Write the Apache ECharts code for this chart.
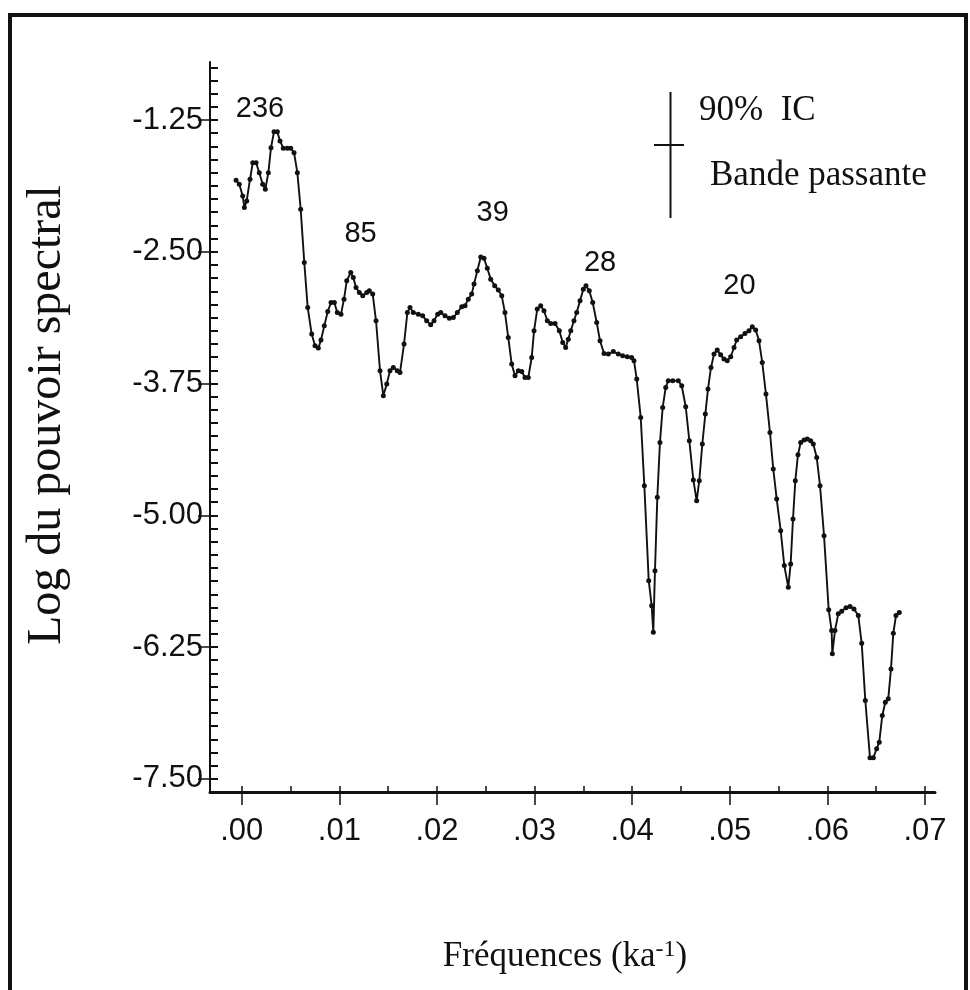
<!DOCTYPE html>
<html>
<head>
<meta charset="utf-8">
<script src="https://cdn.jsdelivr.net/npm/echarts@6/dist/echarts.min.js"></script>
<style>
html,body{margin:0;padding:0;background:#fff;}
#chart{width:970px;height:990px;}
</style>
</head>
<body>
<div id="chart"></div>
<script>
// Frequencies (ka^-1)
const freq = [
-0.00058,-0.00025,0.00010,0.00027,0.00051,0.00085,0.00113,0.00147,0.00180,0.00215,
0.00242,0.00273,0.00300,0.00331,0.00365,0.00392,0.00426,0.00467,0.00502,0.00536,
0.00570,0.00604,0.00641,0.00676,0.00717,0.00751,0.00785,0.00812,0.00846,0.00881,
0.00915,0.00949,0.00979,0.01017,0.01048,0.01076,0.01117,0.01143,0.01171,0.01205,
0.01240,0.01281,0.01307,0.01342,0.01376,0.01417,0.01451,0.01486,0.01519,0.01553,
0.01594,0.01622,0.01663,0.01697,0.01724,0.01758,0.01809,0.01854,0.01895,0.01936,
0.01970,0.02008,0.02039,0.02083,0.02127,0.02168,0.02209,0.02254,0.02288,0.02321,
0.02356,0.02380,0.02414,0.02449,0.02482,0.02516,0.02551,0.02592,0.02629,0.02664,
0.02697,0.02731,0.02766,0.02800,0.02834,0.02869,0.02902,0.02936,0.02971,0.02995,
0.03028,0.03063,0.03097,0.03131,0.03166,0.03210,0.03254,0.03289,0.03319,0.03346,
0.03371,0.03404,0.03432,0.03466,0.03500,0.03527,0.03561,0.03596,0.03637,0.03671,
0.03712,0.03756,0.03807,0.03858,0.03903,0.03950,0.03995,0.04019,0.04047,0.04088,
0.04125,0.04170,0.04200,0.04217,0.04234,0.04258,0.04285,0.04313,0.04344,0.04370,
0.04416,0.04473,0.04508,0.04549,0.04586,0.04627,0.04661,0.04688,0.04719,0.04750,
0.04777,0.04808,0.04839,0.04872,0.04907,0.04941,0.04975,0.05010,0.05044,0.05071,
0.05112,0.05156,0.05197,0.05231,0.05266,0.05300,0.05333,0.05371,0.05412,0.05446,
0.05481,0.05522,0.05559,0.05600,0.05624,0.05648,0.05672,0.05699,0.05727,0.05761,
0.05794,0.05829,0.05856,0.05891,0.05925,0.05966,0.06014,0.06044,0.06051,0.06078,
0.06112,0.06147,0.06191,0.06232,0.06273,0.06317,0.06352,0.06389,0.06437,0.06471,
0.06505,0.06532,0.06563,0.06594,0.06624,0.06652,0.06676,0.06703,0.06737
];
// Log of spectral power
const logPower = [
-1.822,-1.859,-1.970,-2.081,-2.018,-1.812,-1.655,-1.655,-1.750,-1.859,
-1.907,-1.750,-1.513,-1.361,-1.361,-1.449,-1.518,-1.518,-1.518,-1.560,
-1.750,-2.096,-2.603,-3.029,-3.281,-3.392,-3.414,-3.338,-3.203,-3.067,
-2.982,-2.982,-3.077,-3.092,-2.950,-2.776,-2.697,-2.745,-2.840,-2.887,
-2.918,-2.887,-2.871,-2.902,-3.155,-3.629,-3.866,-3.755,-3.629,-3.598,
-3.629,-3.645,-3.376,-3.077,-3.029,-3.077,-3.092,-3.108,-3.155,-3.193,
-3.155,-3.092,-3.077,-3.108,-3.130,-3.124,-3.077,-3.022,-3.013,-2.950,
-2.902,-2.807,-2.681,-2.549,-2.561,-2.656,-2.760,-2.823,-2.864,-2.918,
-3.077,-3.314,-3.566,-3.677,-3.629,-3.636,-3.693,-3.693,-3.503,-3.250,
-3.044,-3.013,-3.060,-3.155,-3.181,-3.181,-3.250,-3.361,-3.408,-3.329,
-3.250,-3.155,-3.077,-2.966,-2.855,-2.823,-2.871,-2.982,-3.171,-3.345,
-3.465,-3.471,-3.446,-3.471,-3.487,-3.496,-3.503,-3.534,-3.708,-4.072,
-4.719,-5.620,-5.857,-6.110,-5.525,-4.830,-4.309,-3.977,-3.787,-3.724,
-3.724,-3.724,-3.771,-3.970,-4.293,-4.665,-4.861,-4.672,-4.324,-4.040,
-3.803,-3.598,-3.471,-3.433,-3.478,-3.518,-3.534,-3.496,-3.408,-3.338,
-3.307,-3.276,-3.250,-3.212,-3.243,-3.345,-3.550,-3.850,-4.214,-4.561,
-4.845,-5.146,-5.477,-5.683,-5.461,-5.035,-4.672,-4.425,-4.309,-4.286,
-4.277,-4.293,-4.324,-4.451,-4.719,-5.193,-5.897,-6.094,-6.314,-6.094,
-5.935,-5.911,-5.878,-5.866,-5.888,-5.951,-6.214,-6.757,-7.300,-7.300,
-7.215,-7.152,-6.899,-6.773,-6.741,-6.457,-6.119,-5.951,-5.923
];
// Period annotations (ka) placed above peaks
const peakText = ['236', '85', '39', '28', '20'];
const peakFreq = [0.00187, 0.01217, 0.02571, 0.03671, 0.05100];
const peakLog = [-1.142, -2.330, -2.130, -2.610, -2.822];
// Tick values
const xTickValues = [0, 0.01, 0.02, 0.03, 0.04, 0.05, 0.06, 0.07];
const xMinorTickValues = [0,0.005,0.01,0.015,0.02,0.025,0.03,0.035,0.04,0.045,0.05,0.055,0.06,0.065,0.07];
const yTickValues = [-7.5, -6.25, -5.0, -3.75, -2.5, -1.25];
const yMinorTickValues = [];
for (let k = -61; k <= -6; k++) yMinorTickValues.push(k * 0.125);

const xTitle = 'Fréquences (ka';
const xTitleSup = '-1';
const yTitle = 'Log du pouvoir spectral';
const legendLine1 = '90%  IC';
const legendLine2 = 'Bande passante';

const chart = echarts.init(document.getElementById('chart'), null, {renderer: 'canvas'});
const SANS = 'Liberation Sans, Arial, sans-serif';
const SERIF = 'Liberation Serif, Times New Roman, serif';

const option = {
  backgroundColor: '#ffffff',
  animation: false,
  grid: {left: 210, right: 35, top: 62, bottom: 198, containLabel: false},
  xAxis: [{
    type: 'value', min: -0.00325, max: 0.07103,
    axisLine: {show: true, onZero: false, lineStyle: {color: '#111', width: 3}},
    axisTick: {show: true, inside: false, length: 13, lineStyle: {color: '#111', width: 1.5}, customValues: xTickValues},
    axisLabel: {show: true, margin: 24, fontSize: 31, fontFamily: SANS, color: '#111',
      customValues: xTickValues,
      formatter: v => v.toFixed(2).replace(/^0\./, '.')},
    splitLine: {show: false}
  }, {
    type: 'value', min: -0.00325, max: 0.07103, position: 'bottom', offset: 0,
    axisLine: {show: false, onZero: false},
    axisTick: {show: true, inside: true, length: 6, lineStyle: {color: '#111', width: 1.5}, customValues: xMinorTickValues},
    axisLabel: {show: false},
    splitLine: {show: false}
  }],
  yAxis: [{
    type: 'value', min: -7.625, max: -0.70,
    axisLine: {show: true, onZero: false, lineStyle: {color: '#111', width: 2}},
    axisTick: {show: true, inside: false, length: 12, lineStyle: {color: '#111', width: 1.5}, customValues: yTickValues},
    axisLabel: {show: true, margin: 7, fontSize: 31, fontFamily: SANS, color: '#111',
      customValues: yTickValues,
      formatter: v => v.toFixed(2)},
    splitLine: {show: false}
  }, {
    type: 'value', min: -7.625, max: -0.70, position: 'left', offset: 0,
    axisLine: {show: false, onZero: false},
    axisTick: {show: true, inside: true, length: 8, lineStyle: {color: '#111', width: 2}, customValues: yMinorTickValues},
    axisLabel: {show: false},
    splitLine: {show: false}
  }],
  series: [{
    type: 'line',
    xAxisIndex: 0, yAxisIndex: 0,
    data: freq.map((f, i) => [f, logPower[i]]),
    symbol: 'circle', symbolSize: 5, showAllSymbol: true,
    itemStyle: {color: '#111'},
    lineStyle: {color: '#111', width: 1.9},
    z: 3
  }, {
    type: 'scatter',
    xAxisIndex: 0, yAxisIndex: 0,
    data: peakText.map((t, i) => [peakFreq[i], peakLog[i], t]),
    symbolSize: 0,
    itemStyle: {opacity: 1, color: '#000'},
    label: {show: true, position: 'inside', formatter: p => p.value[2],
      fontSize: 29, fontFamily: SANS, color: '#111', opacity: 1},
    silent: true
  }],
  graphic: [
    // outer frame
    {type: 'rect', shape: {x: 10, y: 15, width: 956, height: 990},
      style: {fill: null, stroke: '#111', lineWidth: 4}, silent: true},
    // legend symbol
    {type: 'line', shape: {x1: 670.5, y1: 92, x2: 670.5, y2: 218}, style: {stroke: '#111', lineWidth: 2}},
    {type: 'line', shape: {x1: 654, y1: 145, x2: 684, y2: 145}, style: {stroke: '#111', lineWidth: 2}},
    {type: 'text', x: 699, y: 93, style: {text: legendLine1, font: '35px ' + SERIF, fill: '#111', verticalAlign: 'alphabetic'}},
    {type: 'text', x: 710, y: 158, style: {text: legendLine2, font: '35px ' + SERIF, fill: '#111', verticalAlign: 'alphabetic'}},
    // x axis title with superscript
    {type: 'text', x: 565, y: 957, style: {
      text: '{a|' + xTitle + '}{s|' + xTitleSup + '}{a|)}',
      align: 'center', verticalAlign: 'middle',
      rich: {
        a: {fontSize: 35, fontFamily: SERIF, fill: '#111', color: '#111'},
        s: {fontSize: 24, fontFamily: SERIF, fill: '#111', color: '#111', padding: [0, 0, 14, 0]}
      }}},
    // y axis title
    {type: 'text', x: 47, y: 415, rotation: Math.PI / 2, style: {
      text: yTitle, font: '48px ' + SERIF, fill: '#111', align: 'center', verticalAlign: 'middle'}}
  ]
};
chart.setOption(option);
</script>
</body>
</html>
